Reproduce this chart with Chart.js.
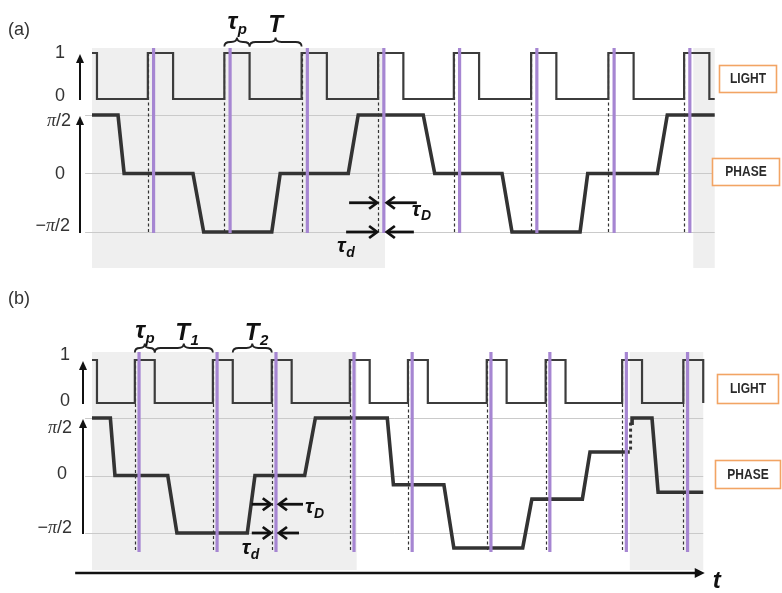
<!DOCTYPE html>
<html><head><meta charset="utf-8">
<script src="https://cdn.jsdelivr.net/npm/chart.js@4/dist/chart.umd.min.js"></script>
<style>html,body{margin:0;padding:0;background:#fff;}canvas{display:block;}</style>
</head><body>
<canvas id="c" width="782" height="593" style="width:782px;height:593px"></canvas>
<script>
// ---------------- DATA (time in arbitrary units, phase in units of π/2) ----------------
// Panel (a): regular pulse train
const lightRiseA = [7.3, 17.3, 27.4, 37.4, 47.3, 57.4, 67.5, 77.4];
const pulseWidthA = 3.3;
const firstFallA = 0.65;
const endA = 81.4;
const delayA = 0.75;
const phaseTimesA = [0, 3.4, 4.2, 13.2, 14.6, 23.5, 24.6, 33.5, 34.8, 43.3, 44.8, 53.6, 54.9, 63.8, 64.8, 73.9, 75.2, 81.4];
const phaseValsA  = [1, 1, 0, 0, -1, -1, 0, 0, 1, 1, 0, 0, -1, -1, 0, 0, 1, 1];
const shadeA = [[0, 38.3], [78.6, 81.4]];

// Panel (b): alternating periods T1 / T2
const lightRiseB = [5.6, 15.8, 23.5, 33.7, 41.3, 51.6, 59.3, 69.3, 77.3];
const pulseWidthB = 2.6;
const firstFallB = 0.65;
const endB = 79.9;
const delayB = 0.55;
const phaseTimesB = [0, 2.4, 3.0, 9.9, 11.1, 20.3, 21.3, 27.8, 29.2, 38.6, 39.4, 46.0, 47.3, 56.3, 57.5, 64.1, 65.1, 70.3];
const phaseValsB  = [1, 1, 0, 0, -1, -1, 0, 0, 1, 1, -0.16, -0.16, -1.26, -1.26, -0.41, -0.41, 0.41, 0.41];
const phaseResetTimesB = [70.4, 70.4];
const phaseResetValsB  = [0.45, 0.97];
const phaseTimesB2 = [70.6, 70.6, 73.2, 74.0, 79.9];
const phaseValsB2  = [0.88, 1, 1, -0.29, -0.29];
const shadeB = [[0, 34.6], [70.3, 79.9]];

const lightTicks = ['1', '0'];
const phaseTicks = ['π/2', '0', '−π/2'];
const boxLabels = ['LIGHT', 'PHASE'];

// ---------------- LAYOUT (pixels) ----------------
const W = 782, H = 593, X0 = 92, PPU = 7.65;
const LA = {lightHi:53, lightLo:99, phHi:115, phLo:232, shadeTop:48, shadeBot:268,
  dashTop:53, dashBot:232, purTop:48, purBot:233, axX:80, gridFrom:-0.9, gridTo:81.4,
  tagX:8, tagY:30, braceY:42, labBase:31,
  lightBox:[719,65,57,27], phaseBox:[712,158,67,27], tickRight:[65,65,71,65,70], tickY:[53,96,121,174,226]};
const LB = {lightHi:360, lightLo:403, phHi:418, phLo:533, shadeTop:352, shadeBot:570,
  dashTop:360, dashBot:552, purTop:352, purBot:552, axX:83, gridFrom:-0.9, gridTo:79.9,
  tagX:8, tagY:299, braceY:348, labBase:340,
  lightBox:[717,374,61,29], phaseBox:[715,460,65,28], tickRight:[70,70,72,67,72], tickY:[355,401,428,474,528]};

function range(vTop, pTop, vBot, pBot) {
  const k = (pBot - pTop) / (vTop - vBot);
  return {min: vBot - (H - pBot) / k, max: vTop + pTop / k};
}
function lightPoints(rises, width, firstFall, end) {
  const pts = [{x:0,y:1},{x:firstFall,y:1},{x:firstFall,y:0}];
  for (const r of rises) {
    pts.push({x:r,y:0},{x:r,y:1});
    const f = r + width;
    if (f < end) pts.push({x:f,y:1},{x:f,y:0});
    else { pts.push({x:end,y:1}); return pts; }
  }
  pts.push({x:end,y:0});
  return pts;
}
const zip = (t, v) => t.map((x, i) => ({x, y: v[i]}));

const INK = '#333333', PURPLE = '#a686d2', ORANGE = '#f2a464', SHADE = '#efefef';

const panels = [
  {L:LA, yL:'yLa', yP:'yPa', rise:lightRiseA, pw:pulseWidthA, delay:delayA, shade:shadeA, tag:'(a)'},
  {L:LB, yL:'yLb', yP:'yPb', rise:lightRiseB, pw:pulseWidthB, delay:delayB, shade:shadeB, tag:'(b)'}
];

function line(ctx, x1, y1, x2, y2) { ctx.beginPath(); ctx.moveTo(x1,y1); ctx.lineTo(x2,y2); ctx.stroke(); }
function chevArrow(ctx, x1, y, x2) {
  const d = Math.sign(x2 - x1);
  ctx.lineWidth = 2.8; ctx.strokeStyle = '#111'; ctx.lineJoin = 'miter'; ctx.lineCap = 'butt';
  line(ctx, x1, y, x2 - d, y);
  ctx.beginPath(); ctx.moveTo(x2 - d*8, y - 6); ctx.lineTo(x2, y); ctx.lineTo(x2 - d*8, y + 6); ctx.stroke();
}
function vArrow(ctx, x, yBot, yTop) {
  ctx.strokeStyle = '#111'; ctx.fillStyle = '#111'; ctx.lineWidth = 2;
  line(ctx, x, yBot, x, yTop + 7);
  ctx.beginPath(); ctx.moveTo(x - 4, yTop + 9); ctx.lineTo(x + 4, yTop + 9); ctx.lineTo(x, yTop); ctx.closePath(); ctx.fill();
}
function brace(ctx, x1, x2, y) {
  const h = 4.5, m = (x1 + x2) / 2, r = Math.min(6, (x2 - x1) / 4);
  ctx.strokeStyle = '#222'; ctx.lineWidth = 1.8;
  ctx.beginPath();
  ctx.moveTo(x1, y + h); ctx.quadraticCurveTo(x1, y, x1 + r, y);
  ctx.lineTo(m - r, y); ctx.quadraticCurveTo(m, y, m, y - h);
  ctx.quadraticCurveTo(m, y, m + r, y);
  ctx.lineTo(x2 - r, y); ctx.quadraticCurveTo(x2, y, x2, y + h);
  ctx.stroke();
}
function sym(ctx, main, sub, x, base, size, subSize, align) {
  const f1 = `bold italic ${size}px "Liberation Sans", Arial, sans-serif`;
  const f2 = `bold italic ${subSize}px "Liberation Sans", Arial, sans-serif`;
  ctx.font = f1; const w1 = ctx.measureText(main).width;
  ctx.font = f2; const w2 = ctx.measureText(sub).width;
  const left = align === 'left' ? x : x - (w1 + w2) / 2;
  ctx.fillStyle = '#111'; ctx.textAlign = 'left'; ctx.textBaseline = 'alphabetic';
  ctx.font = f1; ctx.fillText(main, left, base);
  ctx.font = f2; ctx.fillText(sub, left + w1 + 0.5, base + size * 0.22);
}
function tickText(ctx, txt, xr, y) {
  ctx.fillStyle = INK; ctx.textBaseline = 'middle'; ctx.textAlign = 'left';
  const parts = [];
  for (const ch of txt) parts.push({t: ch, f: ch === 'π' ? 'italic 18px "Liberation Serif", serif' : '18px "Liberation Sans", Arial, sans-serif'});
  let w = 0; for (const p of parts) { ctx.font = p.f; p.w = ctx.measureText(p.t).width; w += p.w; }
  let x = xr - w;
  for (const p of parts) { ctx.font = p.f; ctx.fillText(p.t, x, y); x += p.w; }
}
function box(ctx, r, txt) {
  ctx.fillStyle = '#fff'; ctx.fillRect(r[0], r[1], r[2], r[3]);
  ctx.strokeStyle = ORANGE; ctx.lineWidth = 1.6; ctx.strokeRect(r[0] + 0.5, r[1] + 0.5, r[2], r[3]);
  ctx.fillStyle = '#2a2a2a'; ctx.textAlign = 'center'; ctx.textBaseline = 'middle';
  ctx.font = 'bold 12px "Liberation Sans", Arial, sans-serif';
  const tw = ctx.measureText(txt).width, target = r[2] * 0.68;
  ctx.save(); ctx.translate(r[0] + r[2] / 2 + 0.5, r[1] + r[3] / 2 + 1); ctx.scale(Math.min(1, target / tw), 1.15);
  ctx.fillText(txt, 0, 0); ctx.restore();
}

const deco = {
  id: 'deco',
  beforeDatasetsDraw(chart) {
    const ctx = chart.ctx, x = chart.scales.x;
    ctx.save();
    for (const P of panels) {
      const yP = chart.scales[P.yP];
      ctx.fillStyle = SHADE;
      for (const [t0, t1] of P.shade) {
        const a = x.getPixelForValue(t0), b = x.getPixelForValue(t1);
        ctx.fillRect(a, P.L.shadeTop, b - a, P.L.shadeBot - P.L.shadeTop);
      }
      ctx.strokeStyle = '#cacaca'; ctx.lineWidth = 1;
      for (const v of [1, 0, -1]) {
        const py = Math.round(yP.getPixelForValue(v)) + 0.5;
        line(ctx, x.getPixelForValue(P.L.gridFrom), py, x.getPixelForValue(P.L.gridTo), py);
      }
      ctx.strokeStyle = '#333'; ctx.lineWidth = 1.2; ctx.setLineDash([3, 2.5]);
      for (const r of P.rise) {
        const px = Math.round(x.getPixelForValue(r)) + 0.5;
        line(ctx, px, P.L.dashTop, px, P.L.dashBot);
      }
      ctx.setLineDash([]);
    }
    ctx.restore();
  },
  afterDatasetsDraw(chart) {
    const ctx = chart.ctx, x = chart.scales.x;
    ctx.save();
    for (const P of panels) {
      const L = P.L, yL = chart.scales[P.yL], yP = chart.scales[P.yP];
      ctx.strokeStyle = PURPLE; ctx.lineWidth = 3.2;
      for (const r of P.rise) {
        const px = x.getPixelForValue(r + P.delay);
        line(ctx, px, L.purTop, px, L.purBot);
      }
      ctx.fillStyle = INK; ctx.font = '18px "Liberation Sans", Arial, sans-serif';
      ctx.textAlign = 'left'; ctx.textBaseline = 'middle';
      ctx.fillText(P.tag, L.tagX, L.tagY);
      vArrow(ctx, L.axX, yL.getPixelForValue(0) + 1, yL.getPixelForValue(1) + 1);
      vArrow(ctx, L.axX, yP.getPixelForValue(-1) + 1, yP.getPixelForValue(1) + 1);
      const ticks = lightTicks.concat(phaseTicks);
      ticks.forEach((t, i) => tickText(ctx, t, L.tickRight[i], L.tickY[i]));
      box(ctx, L.lightBox, boxLabels[0]);
      box(ctx, L.phaseBox, boxLabels[1]);
    }
    {
      const P = panels[0], L = P.L, yP = chart.scales[P.yP];
      const r1 = x.getPixelForValue(P.rise[1]), f1 = x.getPixelForValue(P.rise[1] + P.pw), r2 = x.getPixelForValue(P.rise[2]);
      brace(ctx, r1, f1, L.braceY); brace(ctx, f1, r2, L.braceY);
      sym(ctx, 'τ', 'p', (r1 + f1) / 2, L.labBase - 2, 24, 15);
      sym(ctx, 'T', '', (f1 + r2) / 2, L.labBase + 1, 24, 15);
      const d = x.getPixelForValue(P.rise[3]), p = x.getPixelForValue(P.rise[3] + P.delay);
      const yU = yP.getPixelForValue(-0.5), yD = yP.getPixelForValue(-1);
      chevArrow(ctx, d - 29, yU, d - 1); chevArrow(ctx, p + 33, yU, p + 3);
      chevArrow(ctx, d - 32, yD, d - 1); chevArrow(ctx, p + 30, yD, p + 3);
      sym(ctx, 'τ', 'D', p + 28, yU + 13, 21, 14, 'left');
      sym(ctx, 'τ', 'd', d - 41, yD + 20, 21, 14, 'left');
    }
    {
      const P = panels[1], L = P.L, yP = chart.scales[P.yP];
      const r0 = x.getPixelForValue(P.rise[0]), f0 = x.getPixelForValue(P.rise[0] + P.pw);
      const r1 = x.getPixelForValue(P.rise[1]), f1 = x.getPixelForValue(P.rise[1] + P.pw), r2 = x.getPixelForValue(P.rise[2]);
      brace(ctx, r0, f0, L.braceY); brace(ctx, f0, r1, L.braceY); brace(ctx, f1, r2, L.braceY);
      sym(ctx, 'τ', 'p', (r0 + f0) / 2, L.labBase - 2, 24, 15);
      sym(ctx, 'T', '1', (f0 + r1) / 2 + 3, L.labBase, 24, 15);
      sym(ctx, 'T', '2', (f1 + r2) / 2 + 4, L.labBase, 24, 15);
      const d = x.getPixelForValue(P.rise[2]), p = x.getPixelForValue(P.rise[2] + P.delay);
      const yU = yP.getPixelForValue(-0.5), yD = yP.getPixelForValue(-1);
      chevArrow(ctx, d - 20, yU, d - 1); chevArrow(ctx, p + 27, yU, p + 3);
      chevArrow(ctx, d - 20, yD, d - 1); chevArrow(ctx, p + 23, yD, p + 3);
      sym(ctx, 'τ', 'D', p + 29, yU + 9, 21, 14, 'left');
      sym(ctx, 'τ', 'd', d - 30, yD + 21, 21, 14, 'left');
      const ty = 573, tx0 = x.getPixelForValue(-2.2), tx1 = x.getPixelForValue(80.1);
      ctx.strokeStyle = '#111'; ctx.fillStyle = '#111'; ctx.lineWidth = 2.6;
      line(ctx, tx0, ty, tx1 - 8, ty);
      ctx.beginPath(); ctx.moveTo(tx1 - 10, ty - 5); ctx.lineTo(tx1, ty); ctx.lineTo(tx1 - 10, ty + 5); ctx.closePath(); ctx.fill();
      ctx.font = 'bold italic 24px "Liberation Sans", Arial, sans-serif';
      ctx.textAlign = 'left'; ctx.textBaseline = 'alphabetic';
      ctx.fillText('t', tx1 + 8, ty + 15);
    }
    ctx.restore();
  }
};

const rLa = range(1, LA.lightHi, 0, LA.lightLo), rPa = range(1, LA.phHi, -1, LA.phLo);
const rLb = range(1, LB.lightHi, 0, LB.lightLo), rPb = range(1, LB.phHi, -1, LB.phLo);

const lightStyle = {borderColor:'#3c3c3c', borderWidth:2.2, pointRadius:0, fill:false, tension:0, borderJoinStyle:'miter', borderCapStyle:'butt'};
const phaseStyle = {borderColor:'#333', borderWidth:3.6, pointRadius:0, fill:false, tension:0, borderJoinStyle:'miter', borderCapStyle:'butt'};

new Chart(document.getElementById('c'), {
  type: 'line',
  data: {
    datasets: [
      Object.assign({label:'Light (a)', data: lightPoints(lightRiseA, pulseWidthA, firstFallA, endA), xAxisID:'x', yAxisID:'yLa'}, lightStyle),
      Object.assign({label:'Phase (a)', data: zip(phaseTimesA, phaseValsA), xAxisID:'x', yAxisID:'yPa'}, phaseStyle),
      Object.assign({label:'Light (b)', data: lightPoints(lightRiseB, pulseWidthB, firstFallB, endB), xAxisID:'x', yAxisID:'yLb'}, lightStyle),
      Object.assign({label:'Phase (b)', data: zip(phaseTimesB, phaseValsB), xAxisID:'x', yAxisID:'yPb'}, phaseStyle),
      Object.assign({label:'Phase reset (b)', data: zip(phaseResetTimesB, phaseResetValsB), xAxisID:'x', yAxisID:'yPb'}, phaseStyle, {borderWidth:3, borderDash:[3,3]}),
      Object.assign({label:'Phase (b) 2', data: zip(phaseTimesB2, phaseValsB2), xAxisID:'x', yAxisID:'yPb'}, phaseStyle)
    ]
  },
  options: {
    responsive: false, animation: false, events: [],
    layout: {padding: 0},
    plugins: {legend: {display: false}, tooltip: {enabled: false}},
    scales: {
      x:   {type:'linear', display:false, min: -X0 / PPU, max: (W - X0) / PPU},
      yLa: {type:'linear', display:false, min: rLa.min, max: rLa.max},
      yPa: {type:'linear', display:false, min: rPa.min, max: rPa.max},
      yLb: {type:'linear', display:false, min: rLb.min, max: rLb.max},
      yPb: {type:'linear', display:false, min: rPb.min, max: rPb.max}
    }
  },
  plugins: [deco]
});
</script>
</body></html>
